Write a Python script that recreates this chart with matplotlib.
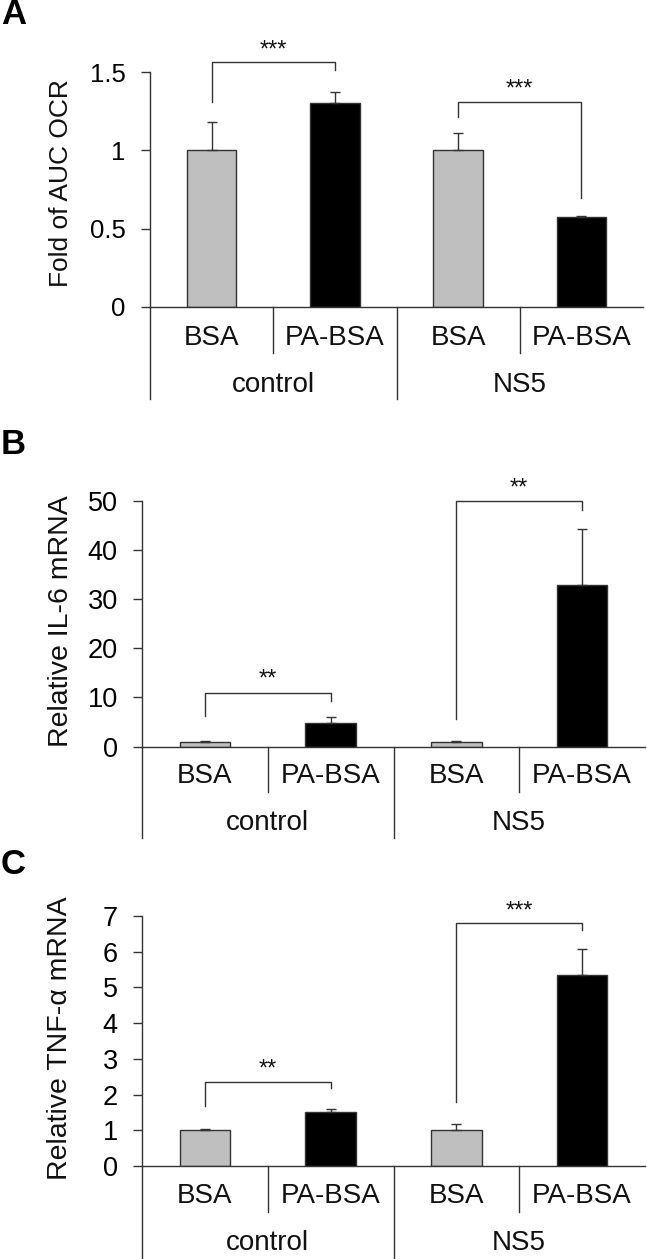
import matplotlib
matplotlib.use('Agg')
import matplotlib.pyplot as plt

plt.rcParams['font.family'] = ['Liberation Sans', 'DejaVu Sans']

# data
conditions = ['BSA', 'PA-BSA', 'BSA', 'PA-BSA']
groups = ['control', 'NS5']
bar_colors = ['#bfbfbf', '#000000', '#bfbfbf', '#000000']

ocr_mean = [1.0, 1.30, 1.0, 0.575]
ocr_err = [0.18, 0.075, 0.11, 0.003]

il6_mean = [1.0, 4.75, 1.0, 32.9]
il6_err = [0.2, 1.2, 0.25, 11.4]

tnf_mean = [1.0, 1.50, 1.0, 5.35]
tnf_err = [0.045, 0.11, 0.17, 0.74]

# significance brackets: (x1, x2, y_bar, y_left, y_right, y_text, label)
ocr_sig = [(0, 1, 1.566, 1.306, 1.512, 1.64, '***'),
           (2, 3, 1.31, 1.21, 0.694, 1.385, '***')]
il6_sig = [(0, 1, 11.0, 6.24, 9.35, 13.7, '**'),
           (2, 3, 49.94, 5.56, 48.2, 52.4, '**')]
tnf_sig = [(0, 1, 2.34, 1.69, 2.18, 2.69, '**'),
           (2, 3, 6.80, 1.80, 6.61, 7.12, '***')]

W, H = 647, 1259
fig = plt.figure(figsize=(W / 100, H / 100), dpi=100)
LC = '#333333'


def panel(rect, means, errs, sigs, ylim, yticks, yticklabels, ylabel, ylab_xy,
          tick_fs, lab_fs, ylab_fs, offs):
    left, top, right, bottom = rect
    ax = fig.add_axes([left / W, 1 - bottom / H, (right - left) / W, (bottom - top) / H])
    h_px = bottom - top
    x = list(range(len(means)))
    ax.bar(x, means, width=0.4, color=bar_colors, edgecolor=LC, linewidth=1.0, zorder=2)
    ax.errorbar(x, means, yerr=[[0] * len(errs), errs], fmt='none', ecolor=LC,
                elinewidth=1.0, capsize=3.5, capthick=1.0, zorder=3)
    ax.set_xlim(-0.5, 3.5)
    ax.set_ylim(*ylim)
    ax.set_yticks(yticks)
    ax.set_yticklabels(yticklabels)
    ax.tick_params(axis='y', direction='out', length=6.5, width=1.0, color=LC,
                   labelsize=tick_fs, pad=11)
    ax.set_xticks([])
    for s in ['top', 'right']:
        ax.spines[s].set_visible(False)
    for s in ['left', 'bottom']:
        ax.spines[s].set_color(LC)
        ax.spines[s].set_linewidth(1.0)

    short, long_, lab_off, grp_off = offs
    tr = ax.get_xaxis_transform()
    for xd in [0.5, 2.5]:
        ax.plot([xd, xd], [0, -short / h_px], color=LC, lw=1.0, transform=tr, clip_on=False)
    for xd in [-0.5, 1.5]:
        ax.plot([xd, xd], [0, -long_ / h_px], color=LC, lw=1.0, transform=tr, clip_on=False)
    for xi, name in zip(x, conditions):
        ax.text(xi, -lab_off / h_px, name, transform=tr, ha='center', va='center',
                fontsize=lab_fs, color='#111111')
    for gi, name in enumerate(groups):
        ax.text(gi * 2 + 0.5, -grp_off / h_px, name, transform=tr, ha='center',
                va='center', fontsize=lab_fs, color='#111111')

    for x1, x2, yb, yl, yr, yt, lab in sigs:
        ax.plot([x1, x1, x2, x2], [yl, yb, yb, yr], color=LC, lw=1.0, clip_on=False)
        ax.text((x1 + x2) / 2, yt, lab, ha='center', va='center', fontsize=17,
                color='#111111', clip_on=False)

    fig.text(ylab_xy[0] / W, 1 - ylab_xy[1] / H, ylabel, rotation=90, ha='center',
             va='center', fontsize=ylab_fs, color='#111111')
    return ax


panel((150, 72, 643, 307), ocr_mean, ocr_err, ocr_sig, (0, 1.5), [0, 0.5, 1, 1.5],
      ['0', '0.5', '1', '1.5'], 'Fold of AUC OCR', (61, 183), 18.5, 20, 19,
      (46, 92, 31, 78))
panel((142, 500.7, 645, 746.7), il6_mean, il6_err, il6_sig, (0, 50),
      [0, 10, 20, 30, 40, 50], ['0', '10', '20', '30', '40', '50'],
      'Relative IL-6 mRNA', (61, 621), 19.5, 20, 20.5, (45, 91, 29, 76))
panel((142, 916, 645, 1166), tnf_mean, tnf_err, tnf_sig, (0, 7),
      list(range(8)), [str(i) for i in range(8)],
      'Relative TNF-α mRNA', (60, 1038), 19.5, 20, 20.5, (46, 93, 30, 77))

for letter, yp in [('A', 14), ('B', 445), ('C', 865)]:
    fig.text(1 / W, 1 - yp / H, letter, fontsize=25, fontweight='bold', ha='left', va='center')

fig.savefig('out.png', dpi=100)
